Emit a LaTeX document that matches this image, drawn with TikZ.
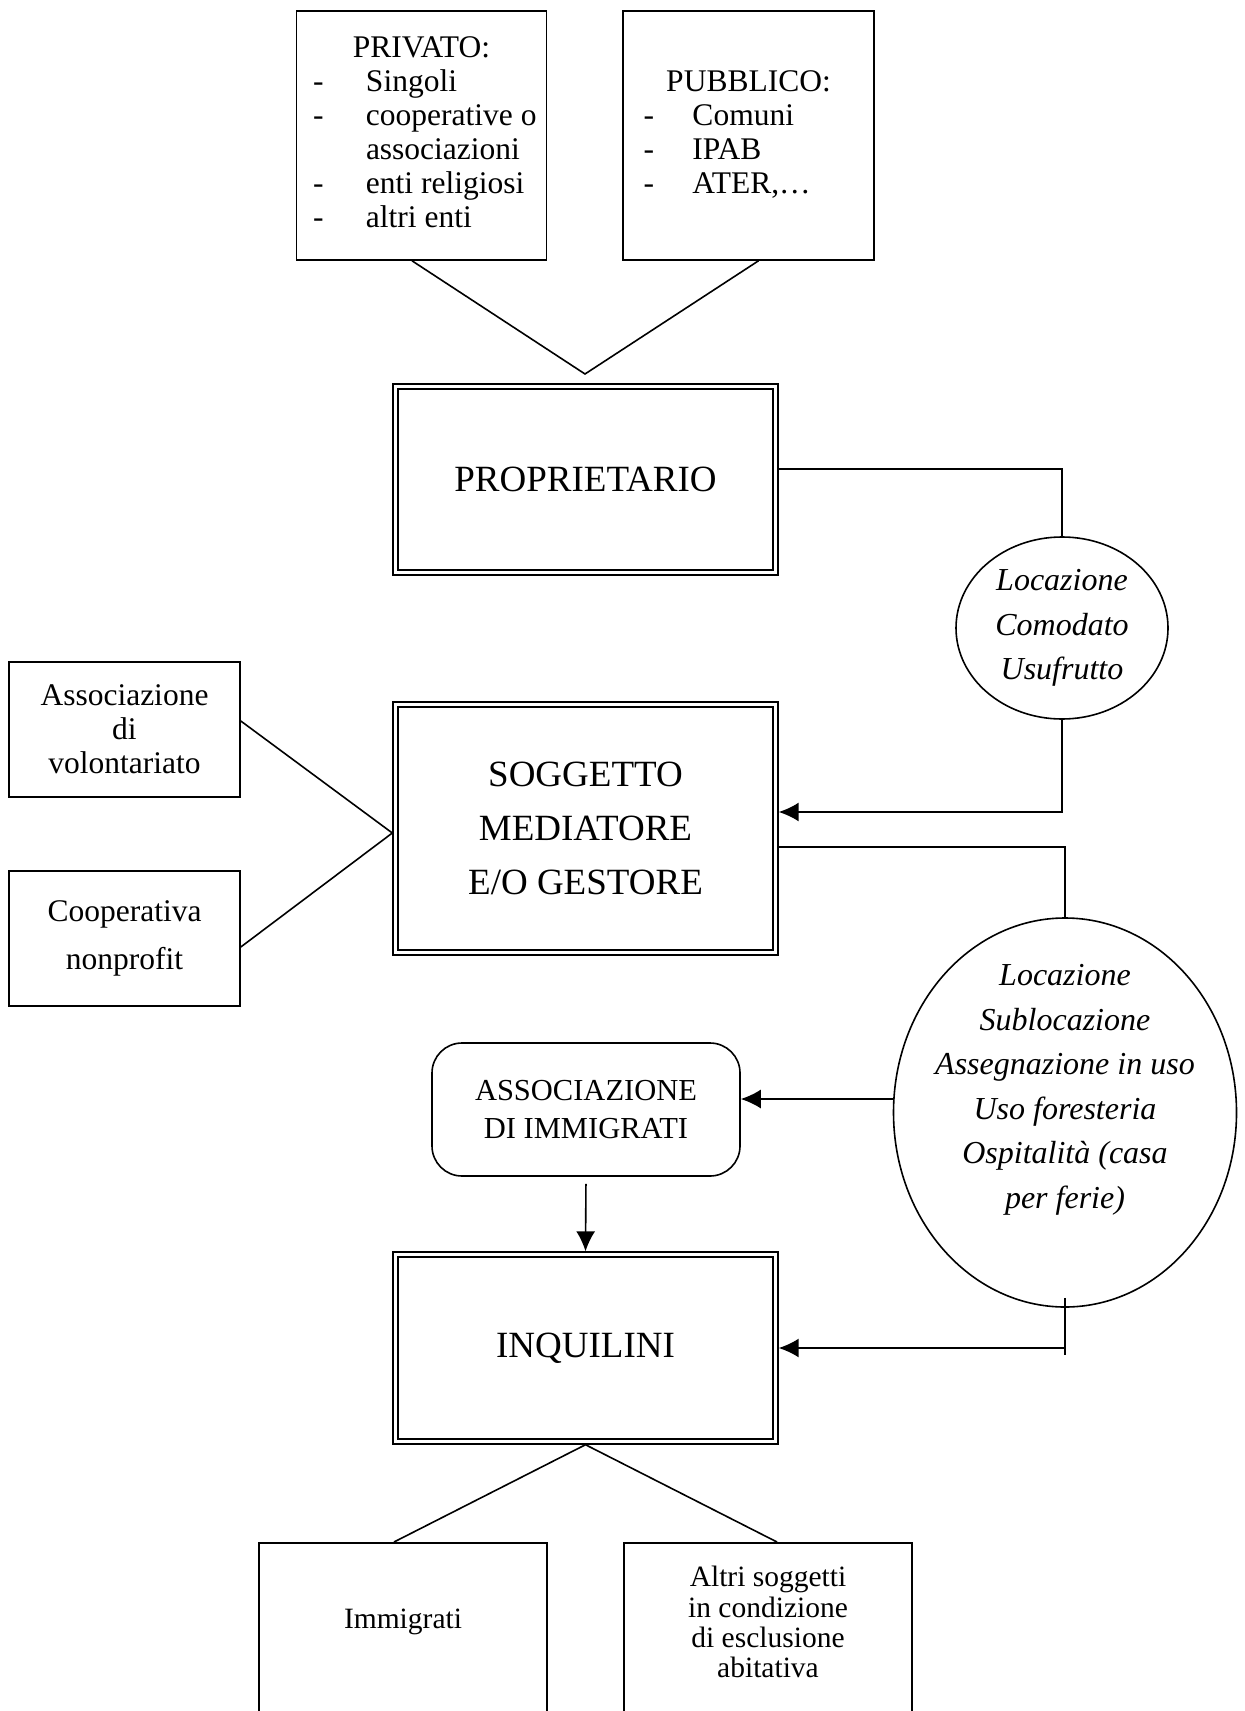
\documentclass[tikz,border=0pt]{standalone}
\usepackage{fontspec}
\setmainfont{Liberation Serif}
\usetikzlibrary{shapes.geometric,arrows.meta}
\newcommand{\piccolo}{\fontsize{15.75pt}{17pt}\selectfont}
\newcommand{\grande}{\fontsize{18.5pt}{27pt}\selectfont}
\newcommand{\corsivo}{\fontsize{16pt}{22.25pt}\selectfont\itshape}
\newcommand{\trattino}{\hspace*{-3.5pt}-}
\tikzset{
  scatola/.style={draw, line width=0.8pt, inner sep=0pt, align=center, font=\piccolo},
  doppia/.style={draw, double, line width=0.7pt, double distance=1.8pt, outer sep=1.6pt,
    inner sep=0pt, minimum width=190pt, align=center, font=\grande},
  ovale/.style={draw, ellipse, line width=0.8pt, inner sep=0pt, align=center, font=\corsivo},
  linea/.style={line width=0.8pt},
  freccia/.style={line width=0.8pt, ->},
}

\begin{document}
\begin{tikzpicture}[x=0.5pt, y=-0.5pt, >={Latex[length=10pt,width=9.5pt]}]
			\useasboundingbox (0,0) rectangle (1244,1711);
			\clip (0,0) rectangle (1244,1711);

			\node[scatola, minimum width=125pt, minimum height=124.5pt] (privato) at (421.5,135.5)
			{\begin{tabular}{@{}p{23pt}@{}p{78.5pt}@{}}
			\multicolumn{2}{@{}c@{}}{PRIVATO:}\\
			\trattino&Singoli\\
			\trattino&\mbox{cooperative o}\\
			&associazioni\\
			\trattino&\mbox{enti religiosi}\\
			\trattino&altri enti
			\end{tabular}};
			\node[scatola, minimum width=125.5pt, minimum height=124.5pt] (pubblico) at (748.5,135.5)
			{\begin{tabular}{@{}p{21pt}@{}p{77pt}@{}}
			\multicolumn{2}{@{}c@{}}{PUBBLICO:}\\
			\trattino&Comuni\\
			\trattino&IPAB\\
			\trattino&ATER,…
			\end{tabular}};
			\coordinate (vertice) at (585,374);
			\draw[linea] ([xshift=-4.75pt]privato.south) -- (vertice) -- ([xshift=5pt]pubblico.south);

			\node[doppia, minimum height=93pt] (proprietario) at (585.5,479.5) {PROPRIETARIO};
			\node[ovale, minimum width=106pt, minimum height=91pt] (contratti) at (1062,628)
			{Locazione\\Comodato\\Usufrutto};
			\draw[linea] ([yshift=5.25pt]proprietario.east) -| (contratti.north);

			\node[doppia, minimum height=124pt] (soggetto) at (585.5,828.5) {SOGGETTO\\MEDIATORE\\E/O GESTORE};
			\draw[freccia] (contratti.south) |- ([yshift=8.25pt]soggetto.east);

			\node[scatola, minimum width=115.5pt, minimum height=67.5pt,
			font={\fontsize{15.75pt}{17pt}\selectfont}] (volontariato) at (124.5,729.5)
			{Associazione\\di\\volontariato};
			\node[scatola, minimum width=115.5pt, minimum height=67.5pt,
			font={\fontsize{15.75pt}{24pt}\selectfont}] (cooperativa) at (124.5,938.5)
			{Cooperativa\\nonprofit};
			\draw[linea] ([yshift=4.25pt]volontariato.east) -- ([yshift=-2.25pt]soggetto.west)
			-- ([yshift=-4.25pt]cooperativa.east);

			\node[ovale, minimum width=171.5pt, minimum height=194.5pt] (usi) at (1065,1112.5) {};
			\node[font=\corsivo, align=center] (usitesto) at (1065,1090)
			{Locazione\\Sublocazione\\Assegnazione in uso\\Uso foresteria\\Ospitalità (casa\\per ferie)};
			\draw[linea] ([yshift=-9.25pt]soggetto.east) -| (usi.north);

			\node[scatola, rounded corners=15pt, minimum width=154pt, minimum height=66.5pt,
			font={\fontsize{15.25pt}{19pt}\selectfont}] (associazione) at (586,1109.5)
			{ASSOCIAZIONE\\DI IMMIGRATI};
			\coordinate (ingresso) at ([yshift=5.25pt]associazione.east);
			\draw[freccia] (usi.west |- ingresso) -- (ingresso);

			\node[doppia, minimum height=93.5pt] (inquilini) at (585.5,1348) {INQUILINI};
			\draw[freccia, shorten <=3.5pt] (associazione.south) -- (inquilini.north);
			\coordinate (gomito) at (usi.south |- inquilini.east);
			\draw[linea] ([yshift=5pt]usi.south) -- ([yshift=-3.5pt]gomito);
			\draw[freccia] (gomito) -- (inquilini.east);

			\node[scatola, minimum width=144pt, minimum height=110pt, anchor=north] (immigrati) at (403,1542) {};
			\node[font={\fontsize{14.75pt}{15.1pt}\selectfont}] (immigratitesto) at (403,1622) {Immigrati};
			\node[scatola, minimum width=144pt, minimum height=110pt, anchor=north] (altri) at (768,1542) {};
			\node[font={\fontsize{14.75pt}{15.1pt}\selectfont}, align=center] (altritesto) at (768,1622)
			{Altri soggetti\\in condizione\\di esclusione\\abitativa};
			\draw[linea] ([xshift=-4.5pt]immigrati.north) -- (inquilini.south) -- ([xshift=4.5pt]altri.north);
		\end{tikzpicture}
\end{document}
